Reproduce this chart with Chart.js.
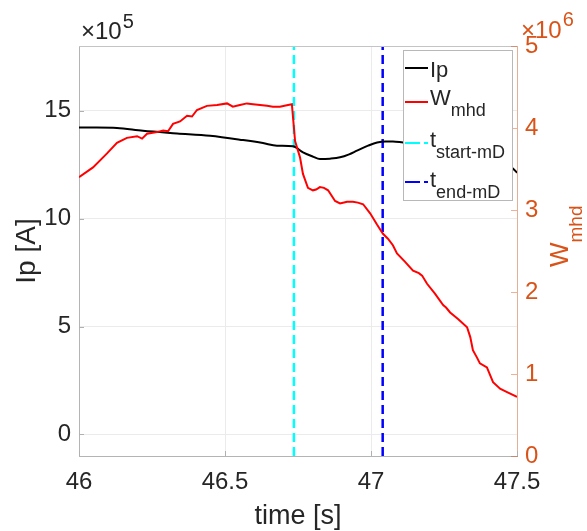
<!DOCTYPE html>
<html>
<head>
<meta charset="utf-8">
<script src="https://cdn.jsdelivr.net/npm/chart.js@4/dist/chart.umd.min.js"></script>
<style>
  html, body { margin: 0; padding: 0; background: #fff; }
  #wrap { width: 587px; height: 531px; }
</style>
</head>
<body>
<div id="wrap"><canvas id="myChart" width="587" height="531"></canvas></div>
<script>
// time [s] and plasma current Ip (x 1e5 A)
const ipTime = [46.000, 46.060, 46.130, 46.219, 46.336, 46.449, 46.562, 46.630, 46.678, 46.733,
  46.767, 46.800, 46.825, 46.860, 46.894, 46.925, 46.952, 46.990, 47.021, 47.050,
  47.075, 47.110, 47.180, 47.250, 47.320, 47.390, 47.440, 47.483, 47.500];
const ipValues = [14.22, 14.22, 14.20, 14.07, 13.95, 13.84, 13.64, 13.50, 13.38, 13.35,
  13.07, 12.88, 12.76, 12.78, 12.84, 12.98, 13.15, 13.38, 13.53, 13.58,
  13.58, 13.53, 13.45, 13.35, 13.20, 12.95, 12.70, 12.36, 12.13];

// time [s] and stored energy Wmhd (x 1e6)
const wTime = [46.000, 46.048, 46.096, 46.130, 46.164, 46.199, 46.216, 46.233, 46.267, 46.288,
  46.305, 46.322, 46.346, 46.370, 46.387, 46.404, 46.438, 46.473, 46.507, 46.527,
  46.551, 46.575, 46.596, 46.620, 46.644, 46.664, 46.688, 46.716, 46.729, 46.740,
  46.757, 46.767, 46.784, 46.801, 46.812, 46.825, 46.839, 46.853, 46.877, 46.894,
  46.918, 46.938, 46.955, 46.973, 46.997, 47.021, 47.041, 47.058, 47.075, 47.089,
  47.116, 47.144, 47.164, 47.175, 47.192, 47.219, 47.247, 47.257, 47.271, 47.298,
  47.329, 47.340, 47.349, 47.363, 47.373, 47.397, 47.418, 47.442, 47.466, 47.500];
const wValues = [3.40, 3.52, 3.69, 3.82, 3.88, 3.90, 3.87, 3.93, 3.95, 3.97,
  3.96, 4.05, 4.08, 4.15, 4.14, 4.22, 4.27, 4.28, 4.30, 4.26,
  4.28, 4.30, 4.29, 4.28, 4.27, 4.26, 4.26, 4.28, 4.29, 3.84,
  3.64, 3.44, 3.27, 3.24, 3.25, 3.28, 3.27, 3.24, 3.11, 3.08,
  3.10, 3.10, 3.09, 3.07, 2.96, 2.82, 2.71, 2.65, 2.57, 2.47,
  2.37, 2.26, 2.23, 2.20, 2.10, 1.98, 1.84, 1.81, 1.75, 1.67,
  1.57, 1.45, 1.29, 1.20, 1.13, 1.08, 0.90, 0.82, 0.78, 0.72];

// mode-lock start / end markers [s]
const tStartMD = 46.736;
const tEndMD = 47.04;

const timeTicks = [46, 46.5, 47, 47.5];
const ipTicks = [0, 5, 10, 15];
const wTicks = [0, 1, 2, 3, 4, 5];

const FONT = '"Liberation Sans", Arial, Helvetica, sans-serif';
const TEXT = '#262626';
const ORANGE = '#D95319';

function points(xs, ys) {
  return xs.map((x, i) => ({ x: x, y: ys[i] }));
}

function vline(t) {
  return [{ x: t, y: -1 }, { x: t, y: 18 }];
}

// subscripted label, e.g. W_mhd
function subText(ctx, x, y, main, sub, size, subSize, drop) {
  ctx.font = size + 'px ' + FONT;
  ctx.fillText(main, x, y);
  const w = ctx.measureText(main).width;
  ctx.font = subSize + 'px ' + FONT;
  ctx.fillText(sub, x + w, y + drop);
}

const extras = {
  id: 'extras',
  afterDatasetsDraw(chart) {
    const ctx = chart.ctx;
    const a = chart.chartArea;
    const sx = chart.scales.x, sy = chart.scales.y, sy1 = chart.scales.y1;
    ctx.save();
    // box top line
    ctx.strokeStyle = '#c4c4c4';
    ctx.lineWidth = 1;
    ctx.beginPath();
    ctx.moveTo(a.left, a.top + 0.5);
    ctx.lineTo(a.right, a.top + 0.5);
    ctx.stroke();
    // inward ticks
    ctx.strokeStyle = '#b0b0b0';
    ctx.beginPath();
    ipTicks.forEach(v => {
      const y = Math.round(sy.getPixelForValue(v)) + 0.5;
      ctx.moveTo(a.left, y); ctx.lineTo(a.left + 5, y);
    });
    timeTicks.forEach(v => {
      const x = Math.round(sx.getPixelForValue(v)) + 0.5;
      ctx.moveTo(x, a.bottom); ctx.lineTo(x, a.bottom - 5);
    });
    ctx.stroke();
    ctx.strokeStyle = 'rgba(217,83,25,0.45)';
    ctx.beginPath();
    wTicks.forEach(v => {
      const y = Math.round(sy1.getPixelForValue(v)) + 0.5;
      ctx.moveTo(a.right, y); ctx.lineTo(a.right - 6, y);
    });
    ctx.stroke();
    ctx.restore();
  },
  afterDraw(chart) {
    const ctx = chart.ctx;
    const a = chart.chartArea;
    ctx.save();
    ctx.textBaseline = 'alphabetic';
    ctx.textAlign = 'left';

    // exponent labels
    ctx.fillStyle = TEXT;
    ctx.font = '24px ' + FONT;
    ctx.fillText('\u00d710', a.left + 2, 39);
    let w = ctx.measureText('\u00d710').width;
    ctx.font = '20px ' + FONT;
    ctx.fillText('5', a.left + 2 + w + 1, 28);

    ctx.fillStyle = ORANGE;
    ctx.font = '24px ' + FONT;
    ctx.fillText('\u00d710', a.right + 4, 38);
    w = ctx.measureText('\u00d710').width;
    ctx.font = '20px ' + FONT;
    ctx.fillText('6', a.right + 4 + w + 1, 26);

    // right axis title W_mhd (rotated)
    ctx.save();
    ctx.translate(568, 267);
    ctx.rotate(-Math.PI / 2);
    subText(ctx, 0, 0, 'W', 'mhd', 26, 19, 14);
    ctx.restore();

    // legend
    const lx = a.right - 114, ly = a.top + 4, lw = 109, lh = 150;
    ctx.fillStyle = '#fff';
    ctx.fillRect(lx, ly, lw, lh);
    ctx.strokeStyle = '#b8b8b8';
    ctx.lineWidth = 1;
    ctx.strokeRect(lx + 0.5, ly + 0.5, lw, lh);

    const entries = [
      { main: 'Ip', sub: '', color: '#000000', dash: [], lineY: 18, textY: 27 },
      { main: 'W', sub: 'mhd', color: '#ff0000', dash: [], lineY: 52, textY: 55 },
      { main: 't', sub: 'start-mD', color: '#00ffff', dash: [15, 4], lineY: 93, textY: 97 },
      { main: 't', sub: 'end-mD', color: '#0000ff', dash: [15, 4], lineY: 132, textY: 137 }
    ];
    entries.forEach(e => {
      ctx.strokeStyle = e.color;
      ctx.lineWidth = 2;
      ctx.setLineDash(e.dash);
      ctx.beginPath();
      ctx.moveTo(lx + 2, ly + e.lineY);
      ctx.lineTo(lx + 25, ly + e.lineY);
      ctx.stroke();
      ctx.setLineDash([]);
      ctx.fillStyle = TEXT;
      subText(ctx, lx + 27, ly + e.textY, e.main, e.sub, 22, 18, 11);
    });
    ctx.restore();
  }
};

new Chart(document.getElementById('myChart'), {
  type: 'line',
  data: {
    datasets: [
      {
        label: 'Ip',
        data: points(ipTime, ipValues),
        yAxisID: 'y',
        borderColor: '#000000',
        borderWidth: 2,
        pointRadius: 0,
        cubicInterpolationMode: 'monotone',
        order: 1
      },
      {
        label: 'Wmhd',
        data: points(wTime, wValues),
        yAxisID: 'y1',
        borderColor: '#ff0000',
        borderWidth: 2,
        pointRadius: 0,
        tension: 0,
        order: 0
      },
      {
        label: 'tstart-mD',
        data: vline(tStartMD),
        yAxisID: 'y',
        borderColor: '#00ffff',
        borderWidth: 2.5,
        borderDash: [9, 5],
        pointRadius: 0,
        order: 2
      },
      {
        label: 'tend-mD',
        data: vline(tEndMD),
        yAxisID: 'y',
        borderColor: '#0000ff',
        borderWidth: 2.5,
        borderDash: [9, 5],
        pointRadius: 0,
        order: 2
      }
    ]
  },
  options: {
    responsive: false,
    animation: false,
    events: [],
    layout: { padding: { top: 46, left: 0, right: 0, bottom: 0 } },
    plugins: {
      legend: { display: false },
      tooltip: { enabled: false }
    },
    scales: {
      x: {
        type: 'linear',
        min: 46,
        max: 47.5,
        afterBuildTicks: s => { s.ticks = timeTicks.map(v => ({ value: v })); },
        afterFit: s => { s.height = 75; },
        grid: { color: '#ebebeb', drawTicks: false },
        border: { color: '#b4b4b4' },
        ticks: {
          color: TEXT,
          padding: 12,
          font: { family: FONT, size: 24 },
          maxRotation: 0,
          callback: v => String(v)
        },
        title: {
          display: true,
          text: 'time [s]',
          color: TEXT,
          font: { family: FONT, size: 27 },
          padding: { top: 0, bottom: -2 }
        }
      },
      y: {
        position: 'left',
        min: -1,
        max: 18,
        afterBuildTicks: s => { s.ticks = ipTicks.map(v => ({ value: v })); },
        afterFit: s => { s.width = 79; },
        grid: { color: '#ebebeb', drawTicks: false },
        border: { color: '#b4b4b4' },
        ticks: { color: TEXT, padding: 8, font: { family: FONT, size: 24 } },
        title: {
          display: true,
          text: 'Ip [A]',
          color: TEXT,
          font: { family: FONT, size: 28 },
          padding: { top: 10, bottom: 0 }
        }
      },
      y1: {
        position: 'right',
        min: 0,
        max: 5,
        afterBuildTicks: s => { s.ticks = wTicks.map(v => ({ value: v })); },
        afterFit: s => { s.width = 70; },
        grid: { drawOnChartArea: false, drawTicks: false },
        border: { color: 'rgba(217,83,25,0.4)' },
        ticks: { color: ORANGE, padding: 8, font: { family: FONT, size: 24 } }
      }
    }
  },
  plugins: [extras]
});
</script>
</body>
</html>
